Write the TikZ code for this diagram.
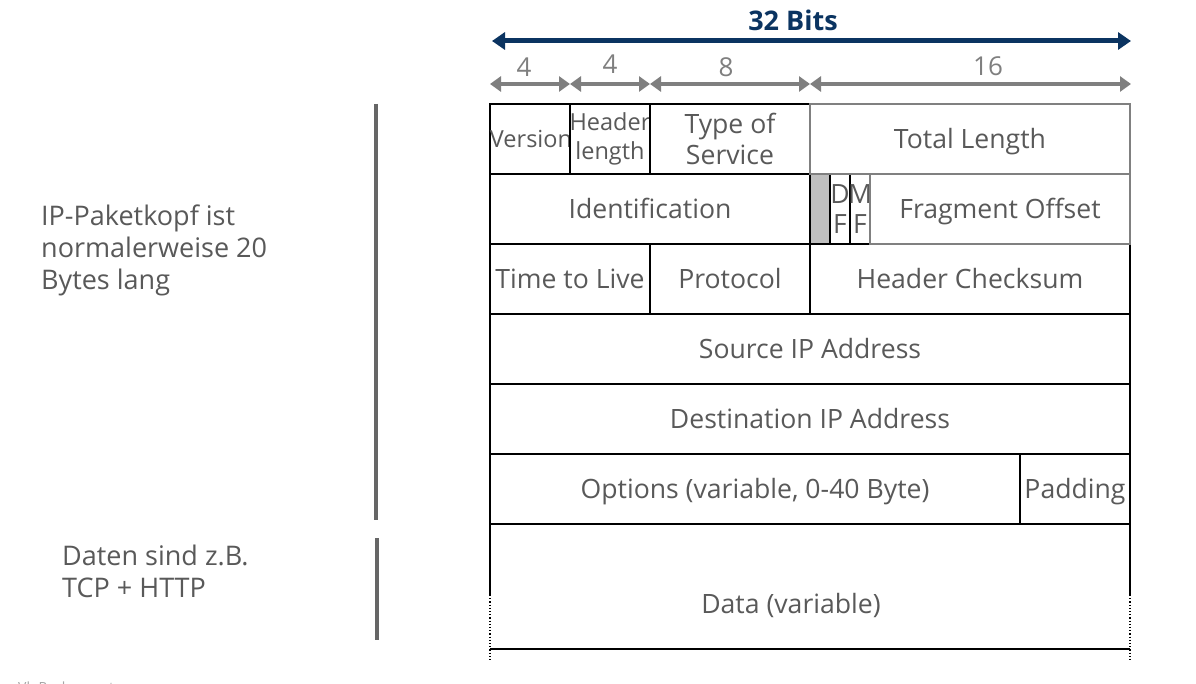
\documentclass[tikz,border=0pt]{standalone}
\usepackage{fontspec}
\setmainfont{Open Sans}
\usetikzlibrary{arrows.meta}
\definecolor{txt}{HTML}{595959}
\definecolor{navy}{HTML}{0B3461}
\definecolor{arrgray}{HTML}{7F7F7F}
\definecolor{bargray}{HTML}{666666}
\definecolor{boxgray}{HTML}{808080}
\definecolor{resgray}{HTML}{BFBFBF}
\tikzset{
  fieldbase/.style={draw=black, line width=1.6pt, inner sep=0pt, outer sep=0pt, text=txt,
    align=center, font=\fontsize{26.6}{31}\selectfont},
  field/.style={fieldbase, text height=19pt, text depth=0pt},
  multifield/.style={fieldbase},
  smallfield/.style={fieldbase, text width=80pt, font=\fontsize{23.5}{29}\selectfont},
  tinyfield/.style={fieldbase, text width=20pt, font=\fontsize{26.5}{30}\selectfont},
  grayfield/.style={field, draw=boxgray},
  sidetext/.style={text=txt, align=left, anchor=north west, inner sep=0pt,
    font=\fontsize{27}{32}\selectfont},
  widtharrow/.style={draw=arrgray, line width=4pt, {Triangle[length=11pt,width=15pt]}-{Triangle[length=11pt,width=15pt]}},
  bitlabel/.style={text=arrgray, inner sep=0pt, font=\fontsize{26}{30}\selectfont},
  bar/.style={draw=bargray, line width=4pt},
}
\begin{document}
\begin{tikzpicture}[x=1pt,y=-1pt]
\useasboundingbox (0,0) rectangle (1196,684);
\fill[white] (0,0) rectangle (1196,684);

% Top arrows
\coordinate (L) at (492,41);
\coordinate (R) at (1131,41);
\draw[draw=navy, line width=5pt, {Triangle[length=13pt,width=17pt]}-{Triangle[length=13pt,width=17pt]}] (L) -- (R);
\node[text=navy, font=\fontsize{27}{30}\selectfont\bfseries, inner sep=0pt] (bits) at (793,20) {32 Bits};

\coordinate (a0) at (490,84);
\coordinate (a1) at (570,84);
\coordinate (a2) at (650,84);
\coordinate (a3) at (810,84);
\coordinate (a4) at (1131,84);
\draw[widtharrow] (a0) -- (a1);
\draw[widtharrow] (a1) -- (a2);
\draw[widtharrow] (a2) -- (a3);
\draw[widtharrow] (a3) -- (a4);
\node[bitlabel] (n1) at (524,67) {4};
\node[bitlabel] (n2) at (610,64) {4};
\node[bitlabel] (n3) at (726,67) {8};
\node[bitlabel] (n4) at (988,66) {16};

% Row 1
\node[smallfield, text height=16.5pt, text depth=0pt, minimum height=70pt] (ver) at (530,139) {\makebox[80pt]{\hspace*{2pt}Version}};
\node[smallfield, minimum height=70pt] (hl) at (610,139) {\makebox[80pt]{Header}\\\makebox[80pt]{length}};
\node[multifield, minimum width=160pt, minimum height=70pt] (tos) at (730,139) {Type of\\Service};
% Row 2
\node[field, minimum width=320pt, minimum height=70pt] (id) at (650,209) {Identification};
\node[fieldbase, fill=resgray, minimum width=20pt, minimum height=70pt] (res) at (820,209) {};
\node[tinyfield, minimum height=70pt] (df) at (840,209) {\makebox[20pt]{D}\\\makebox[20pt]{F}};
\node[tinyfield, minimum height=70pt] (mf) at (860,209) {\makebox[20pt]{M}\\\makebox[20pt]{F}};
% Row 3
\node[field, minimum width=160pt, minimum height=70pt] (ttl) at (570,279) {Time to Live};
\node[field, minimum width=160pt, minimum height=70pt] (proto) at (730,279) {Protocol};
\node[field, minimum width=320pt, minimum height=70pt] (chk) at (970,279) {Header Checksum};
% Gray-bordered fields
\node[grayfield, minimum width=320pt, minimum height=70pt] (tl) at (970,139) {Total Length};
\node[grayfield, minimum width=260pt, minimum height=70pt] (fo) at (1000,209) {Fragment Offset};
% Rows 4-6
\node[field, minimum width=640pt, minimum height=70pt] (src) at (810,349) {Source IP Address};
\node[field, minimum width=640pt, minimum height=70pt] (dst) at (810,419) {Destination IP Address};
\node[field, minimum width=530pt, minimum height=70pt] (opt) at (755,489) {Options (variable, 0-40 Byte)};
\node[field, minimum width=110pt, minimum height=70pt] (pad) at (1075,489) {Padding};
% Data
\node[field, draw=none, minimum width=640pt, minimum height=125pt] (data) at (810,586.5) {};
\node[text=txt, font=\fontsize{26.6}{31}\selectfont, inner sep=0pt, text height=19pt, text depth=0pt] (datatxt) at (791,604) {Data (variable)};
\draw[line width=1.6pt] (data.north west) -- (data.north east);
\draw[line width=1.6pt] (data.south west) -- (data.south east);
\draw[line width=1.6pt] (data.north west) -- ++(0,71);
\draw[line width=1.6pt] (data.north east) -- ++(0,71);
\draw[line width=1.2pt, dotted] (data.north west) ++(0,71) -- ++(0,67);
\draw[line width=1.2pt, dotted] (data.north east) ++(0,71) -- ++(0,67);

% Left side
\draw[bar] (376,104) -- (376,520);
\draw[bar] (377,538) -- (377,640);
\node[sidetext] (hdrtxt) at (41,205) {IP-Paketkopf ist\\normalerweise 20\\Bytes lang};
\node[sidetext] (datside) at (62,545) {Daten sind z.B.\\TCP + HTTP};
\begin{scope}
\clip (0,0) rectangle (1196,684);
\node[text=boxgray!70, anchor=base west, inner sep=0pt, font=\fontsize{14}{16}\selectfont] (foot) at (18,692) {Vl. Rechnernetze};
\end{scope}
\end{tikzpicture}
\end{document}
